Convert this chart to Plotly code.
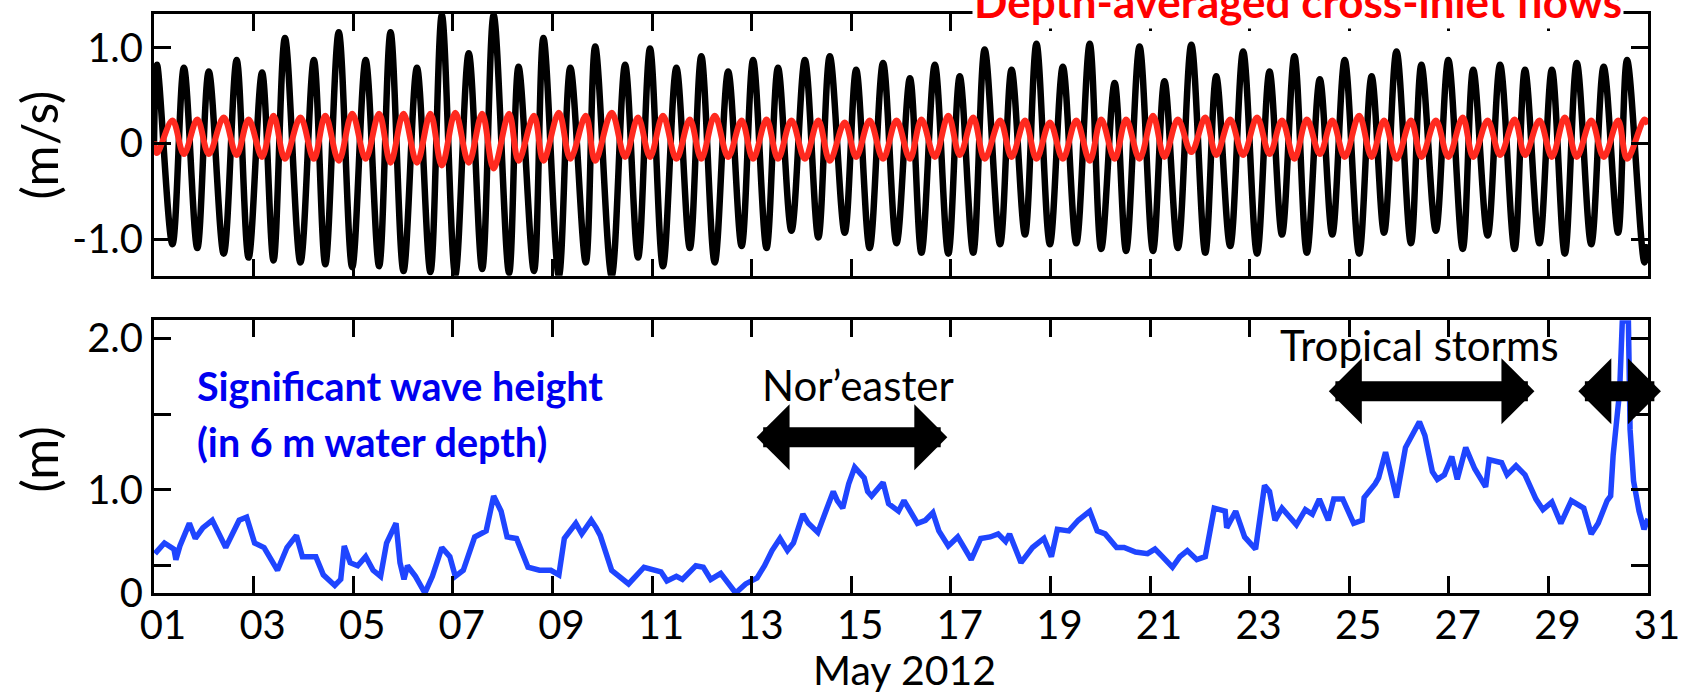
import plotly.graph_objects as go

# ---------------------------------------------------------------- data
# Tidal extrema (day of May 2012) with velocity at each turning point (m/s)
tide_days = [1.00, 1.06, 1.37, 1.60, 1.87, 2.10, 2.40, 2.66, 2.90, 3.17, 3.40, 3.63, 3.94, 4.21, 4.44,
             4.71, 4.98, 5.25, 5.52, 5.75, 6.01, 6.28, 6.55, 6.78, 7.05, 7.32, 7.59, 7.82, 8.13, 8.32,
             8.63, 8.82, 9.13, 9.36, 9.67, 9.86, 10.19, 10.46, 10.72, 10.96, 11.22, 11.49, 11.76, 11.99,
             12.26, 12.53, 12.80, 13.03, 13.30, 13.53, 13.80, 14.07, 14.34, 14.57, 14.87, 15.10, 15.37,
             15.64, 15.91, 16.18, 16.41, 16.68, 16.95, 17.18, 17.45, 17.68, 17.99, 18.22, 18.49, 18.72,
             18.99, 19.25, 19.52, 19.79, 20.02, 20.29, 20.52, 20.79, 21.06, 21.29, 21.56, 21.83, 22.11,
             22.33, 22.61, 22.87, 23.15, 23.40, 23.65, 23.90, 24.15, 24.41, 24.66, 24.91, 25.20, 25.45,
             25.70, 25.95, 26.24, 26.45, 26.74, 26.99, 27.28, 27.49, 27.78, 28.03, 28.32, 28.53, 28.82,
             29.07, 29.33, 29.57, 29.86, 30.11, 30.40, 30.58, 30.93, 31.00]
inlet_velocity = [0.00, 0.82, -1.05, 0.79, -1.09, 0.75, -1.15, 0.87, -1.19, 0.74, -1.22, 1.10, -1.24, 0.87,
                  -1.26, 1.16, -1.29, 0.87, -1.28, 1.16, -1.33, 0.79, -1.34, 1.34, -1.37, 0.94, -1.31,
                  1.34, -1.35, 0.80, -1.33, 1.10, -1.38, 0.79, -1.24, 1.01, -1.38, 0.82, -1.19, 0.99,
                  -1.28, 0.79, -1.09, 0.91, -1.24, 0.75, -1.07, 0.87, -1.09, 0.79, -0.91, 0.87, -0.98,
                  0.91, -0.93, 0.77, -1.09, 0.84, -1.04, 0.68, -1.14, 0.82, -1.15, 0.70, -1.14, 0.98,
                  -1.05, 0.77, -0.95, 1.04, -1.05, 0.80, -1.04, 1.04, -1.10, 0.63, -1.12, 1.01, -1.12,
                  0.65, -1.09, 1.03, -1.14, 0.70, -1.07, 0.96, -1.15, 0.75, -0.95, 0.91, -1.14, 0.67,
                  -0.95, 0.87, -1.15, 0.70, -0.93, 0.96, -1.04, 0.82, -0.91, 0.87, -1.10, 0.77, -0.96,
                  0.82, -1.10, 0.77, -1.04, 0.77, -1.15, 0.84, -1.05, 0.80, -0.93, 0.87, -1.24, -1.05]
depth_avg_flow = [0.02, -0.10, 0.24, -0.11, 0.25, -0.11, 0.27, -0.12, 0.25, -0.14, 0.29, -0.16, 0.27, -0.16,
                  0.29, -0.18, 0.31, -0.16, 0.31, -0.20, 0.31, -0.20, 0.31, -0.23, 0.32, -0.20, 0.31,
                  -0.26, 0.31, -0.18, 0.29, -0.18, 0.32, -0.16, 0.29, -0.18, 0.32, -0.14, 0.27, -0.14,
                  0.29, -0.16, 0.25, -0.16, 0.29, -0.14, 0.24, -0.16, 0.25, -0.16, 0.24, -0.16, 0.24,
                  -0.18, 0.22, -0.14, 0.24, -0.16, 0.24, -0.16, 0.25, -0.14, 0.29, -0.12, 0.27, -0.16,
                  0.24, -0.14, 0.24, -0.16, 0.22, -0.16, 0.24, -0.18, 0.25, -0.16, 0.25, -0.16, 0.29,
                  -0.14, 0.25, -0.09, 0.27, -0.12, 0.25, -0.12, 0.27, -0.11, 0.24, -0.16, 0.25, -0.11,
                  0.24, -0.14, 0.29, -0.14, 0.24, -0.16, 0.24, -0.14, 0.24, -0.14, 0.27, -0.14, 0.24,
                  -0.12, 0.25, -0.12, 0.24, -0.14, 0.27, -0.14, 0.24, -0.14, 0.24, -0.16, 0.25, 0.20]

# Significant wave height in 6 m water depth (m)
wave_days = [1.02, 1.21, 1.40, 1.44, 1.52, 1.71, 1.83, 1.98, 2.17, 2.44, 2.71, 2.86, 3.02, 3.21, 3.48,
             3.67, 3.86, 3.98, 4.25, 4.40, 4.63, 4.75, 4.82, 4.94, 5.09, 5.25, 5.40, 5.55, 5.67, 5.86,
             5.94, 6.02, 6.09, 6.25, 6.44, 6.59, 6.78, 6.94, 7.05, 7.21, 7.44, 7.67, 7.82, 7.97, 8.09,
             8.28, 8.51, 8.74, 8.97, 9.13, 9.24, 9.47, 9.59, 9.78, 9.88, 9.96, 10.19, 10.53, 10.84,
             11.18, 11.30, 11.49, 11.61, 11.88, 12.03, 12.18, 12.38, 12.68, 12.88, 13.11, 13.26, 13.41,
             13.57, 13.72, 13.84, 14.03, 14.14, 14.33, 14.49, 14.64, 14.72, 14.83, 14.95, 15.07, 15.26,
             15.33, 15.41, 15.64, 15.75, 15.95, 16.06, 16.22, 16.33, 16.49, 16.64, 16.76, 16.95, 17.14,
             17.26, 17.41, 17.60, 17.79, 17.95, 18.10, 18.18, 18.41, 18.64, 18.87, 19.02, 19.14, 19.37,
             19.56, 19.79, 19.94, 20.10, 20.33, 20.48, 20.71, 20.95, 21.10, 21.25, 21.45, 21.60, 21.75,
             21.94, 22.11, 22.29, 22.51, 22.54, 22.72, 22.90, 23.12, 23.30, 23.40, 23.51, 23.65, 23.94,
             24.12, 24.26, 24.40, 24.58, 24.69, 24.87, 25.09, 25.26, 25.30, 25.52, 25.59, 25.73, 25.95,
             26.13, 26.27, 26.41, 26.52, 26.67, 26.77, 26.91, 27.06, 27.17, 27.34, 27.52, 27.74, 27.81,
             28.06, 28.17, 28.35, 28.53, 28.75, 28.89, 29.07, 29.25, 29.46, 29.71, 29.86, 30.00, 30.18,
             30.25, 30.30, 30.43, 30.50, 30.57, 30.60, 30.64, 30.71, 30.82, 30.92, 31.00]
wave_height = [0.58, 0.65, 0.61, 0.54, 0.63, 0.78, 0.68, 0.75, 0.80, 0.62, 0.80, 0.82, 0.65, 0.62, 0.47,
               0.62, 0.70, 0.56, 0.56, 0.44, 0.37, 0.41, 0.63, 0.52, 0.50, 0.56, 0.47, 0.43, 0.65, 0.78,
               0.52, 0.41, 0.50, 0.43, 0.32, 0.43, 0.62, 0.56, 0.43, 0.47, 0.69, 0.73, 0.96, 0.86, 0.69,
               0.68, 0.49, 0.47, 0.47, 0.44, 0.68, 0.78, 0.71, 0.80, 0.75, 0.70, 0.47, 0.38, 0.49,
               0.46, 0.40, 0.43, 0.41, 0.50, 0.49, 0.41, 0.45, 0.32, 0.38, 0.42, 0.50, 0.60,
               0.68, 0.60, 0.65, 0.84, 0.78, 0.72, 0.86, 0.99, 0.93, 0.88, 1.04, 1.15, 1.08,
               0.99, 0.96, 1.05, 0.91, 0.86, 0.93, 0.85, 0.78, 0.80, 0.85, 0.73, 0.63, 0.69,
               0.62, 0.54, 0.68, 0.69, 0.71, 0.66, 0.71, 0.52, 0.62, 0.68, 0.56, 0.74, 0.73,
               0.80, 0.86, 0.73, 0.71, 0.62, 0.62, 0.59, 0.58, 0.61, 0.56, 0.49, 0.56, 0.60,
               0.54, 0.56, 0.88, 0.86, 0.75, 0.86, 0.69, 0.61, 1.03, 0.99, 0.80, 0.88, 0.77,
               0.87, 0.84, 0.94, 0.80, 0.94, 0.94, 0.78, 0.80, 0.95, 1.04, 1.08, 1.25, 0.95,
               1.28, 1.36, 1.45, 1.36, 1.12, 1.07, 1.10, 1.22, 1.07, 1.28, 1.14, 1.02, 1.20,
               1.18, 1.10, 1.16, 1.10, 0.94, 0.87, 0.92, 0.78, 0.93, 0.88, 0.71, 0.78, 0.93,
               0.96, 1.23, 1.65, 2.25, 2.10, 2.25, 1.40, 1.06, 0.86, 0.74, 0.81]

day_ticks = list(range(1, 32, 2))
day_labels = [f"{d:02d}" for d in day_ticks]

# storm windows (start day, end day)
noreaster_window = (13.07, 16.93)
tropical_windows = [(24.56, 28.72), (29.57, 31.26)]

# ---------------------------------------------------------------- figure
FONT = "Lato"
W, H = 1708, 698
M_L, M_R, M_T, M_B = 154, 60, 7, 105
plot_h = H - M_T - M_B
plot_w = W - M_L - M_R


def py(px):
    """pixel row -> paper y"""
    return (H - M_B - px) / plot_h


def px_x(px):
    """pixel column -> paper x"""
    return (px - M_L) / plot_w


fig = go.Figure()

fig.add_trace(go.Scatter(x=tide_days, y=inlet_velocity, mode="lines",
                         line=dict(color="black", width=6.5, shape="spline", smoothing=1.0),
                         xaxis="x", yaxis="y", showlegend=False))
fig.add_trace(go.Scatter(x=tide_days, y=depth_avg_flow, mode="lines",
                         line=dict(color="#ff2a1f", width=6, shape="spline", smoothing=1.0),
                         xaxis="x", yaxis="y", showlegend=False))
fig.add_trace(go.Scatter(x=wave_days, y=wave_height, mode="lines",
                         line=dict(color="#1f45ff", width=5.5),
                         xaxis="x2", yaxis="y2", showlegend=False))

axis_common = dict(showline=True, linecolor="black", linewidth=3, mirror="ticks",
                   ticks="inside", ticklen=17, tickwidth=2.5, tickcolor="black",
                   showgrid=False, zeroline=False,
                   tickfont=dict(family=FONT, size=40, color="black"))

low_bottom = 0.32
fig.update_layout(
    width=W, height=H,
    margin=dict(l=M_L, r=M_R, t=M_T, b=M_B),
    paper_bgcolor="white", plot_bgcolor="white",
    xaxis=dict(domain=[0, 1], anchor="y", range=[1, 31], tickvals=day_ticks,
               showticklabels=False, **axis_common),
    yaxis=dict(domain=[py(272), 1], anchor="x", range=[-1.38, 1.35],
               tickvals=[-1, 0, 1], ticktext=["-1.0", "0", "1.0"], **axis_common),
    xaxis2=dict(domain=[0, 1], anchor="y2", range=[1, 31], tickvals=day_ticks,
                ticktext=day_labels, ticklabelshift=9, ticklabelstandoff=-5, **axis_common),
    yaxis2=dict(domain=[0, py(317)], anchor="x2", range=[low_bottom, 2.12],
                tickvals=[low_bottom, 0.5, 1.0, 1.5, 2.0], ticktext=["0", "", "1.0", "", "2.0"],
                **axis_common),
)

ann = []
# panel title for the red series, drawn over the top frame
ann.append(dict(text="<b>Depth-averaged cross-inlet flows</b>", xref="paper", yref="paper",
                x=px_x(1298), y=py(-6), xanchor="center", yanchor="middle",
                showarrow=False, bgcolor="white",
                font=dict(family=FONT, size=44, color="#ff0000")))
# axis titles
ann.append(dict(text="(m/s)", xref="paper", yref="paper", x=px_x(39), y=py(140),
                textangle=-90, showarrow=False, xanchor="center", yanchor="middle",
                font=dict(family=FONT, size=50, color="black")))
ann.append(dict(text="(m)", xref="paper", yref="paper", x=px_x(39), y=py(458),
                textangle=-90, showarrow=False, xanchor="center", yanchor="middle",
                font=dict(family=FONT, size=50, color="black")))
ann.append(dict(text="May 2012", xref="paper", yref="paper", x=px_x(904),
                y=py(670), showarrow=False, xanchor="center", yanchor="middle",
                font=dict(family=FONT, size=41, color="black")))
# wave panel labels
ann.append(dict(text="<b>Significant wave height</b>", xref="x2", yref="y2", x=1.82, y=1.69,
                xanchor="left", yanchor="middle", showarrow=False,
                font=dict(family=FONT, size=39.5, color="#0000f0")))
ann.append(dict(text="<b>(in 6 m water depth)</b>", xref="x2", yref="y2", x=1.82, y=1.32,
                xanchor="left", yanchor="middle", showarrow=False,
                font=dict(family=FONT, size=39.5, color="#0000f0")))
ann.append(dict(text="Nor\u2019easter", xref="x2", yref="y2", x=15.14, y=1.695,
                xanchor="center", yanchor="middle", showarrow=False,
                font=dict(family=FONT, size=42, color="black")))
ann.append(dict(text="Tropical storms", xref="x2", yref="y2", x=26.42, y=1.96,
                xanchor="center", yanchor="middle", showarrow=False,
                font=dict(family=FONT, size=42, color="black")))


def span_arrow(t0, t1, level):
    return dict(text="", xref="x2", yref="y2", axref="x2", ayref="y2",
                x=t1, y=level, ax=t0, ay=level, showarrow=True,
                arrowside="end+start", arrowhead=1, startarrowhead=1,
                arrowsize=0.55, startarrowsize=0.55, arrowwidth=20, arrowcolor="black",
                standoff=0, startstandoff=0)


ann.append(span_arrow(*noreaster_window, 1.348))
for w in tropical_windows:
    ann.append(span_arrow(*w, 1.652))

fig.update_layout(annotations=ann)

fig.write_html("out.html")
